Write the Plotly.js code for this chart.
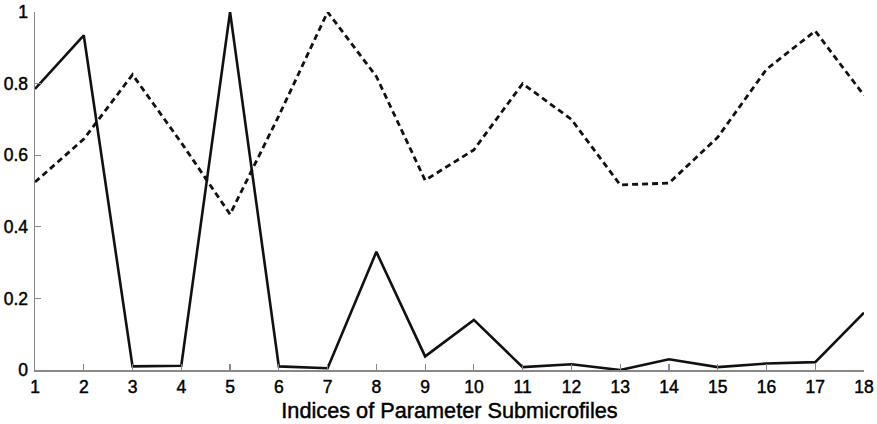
<!DOCTYPE html>
<html><head><meta charset="utf-8">
<script src="https://cdn.plot.ly/plotly-3.0.1.min.js"></script>
<style>html,body{margin:0;padding:0;background:#fff}#c{width:877px;height:424px}
#c .main-svg text{stroke:#000;stroke-width:0.45px}</style>
</head><body><div id="c"></div>
<script>
const indices = [1,2,3,4,5,6,7,8,9,10,11,12,13,14,15,16,17,18];
const solidSeries = [0.785,0.935,0.01,0.012,1.0,0.01,0.005,0.33,0.038,0.14,0.008,0.016,0.0,0.03,0.008,0.018,0.022,0.16];
const dashedSeries = [0.525,0.645,0.825,0.635,0.435,0.71,1.0,0.82,0.53,0.615,0.80,0.70,0.517,0.522,0.65,0.84,0.947,0.767];
const yTicks = [0,0.2,0.4,0.6,0.8,1];
const yTickText = ['0','0.2','0.4','0.6','0.8','1'];

const traces = [
  {x: indices, y: solidSeries, mode:'lines', line:{color:'#111', width:2.6}, hoverinfo:'none'},
  {x: indices, y: dashedSeries, mode:'lines', line:{color:'#111', width:2.8, dash:'6px,4px'}, hoverinfo:'none'}
];
const fam = 'Arial, "Liberation Sans", sans-serif';
const font = {family:fam, size:17.5, color:'#000'};
const layout = {
  width:877, height:424,
  margin:{l:35, r:13, t:12, b:54},
  showlegend:false,
  paper_bgcolor:'#fff', plot_bgcolor:'#fff',
  font: font,
  xaxis:{range:[1,18], tickvals:indices, ticktext:indices.map(String), ticks:'inside', ticklen:6, tickcolor:'#888', tickwidth:1.2,
         showline:true, linecolor:'#888', linewidth:1.5, showgrid:false, zeroline:false, tickfont:font,
         title:{text:'Indices of Parameter Submicrofiles', font:{family:fam, size:21.7, color:'#000'}, standoff:7}},
  yaxis:{range:[0,1], tickvals:yTicks, ticktext:yTickText, ticks:'inside', ticklen:6, tickcolor:'#888', tickwidth:1.2,
         showline:true, linecolor:'#888', linewidth:1.5, showgrid:false, zeroline:false, tickfont:font, ticklabelstandoff:2}
};
Plotly.newPlot('c', traces, layout, {displayModeBar:false, staticPlot:true});
</script></body></html>
